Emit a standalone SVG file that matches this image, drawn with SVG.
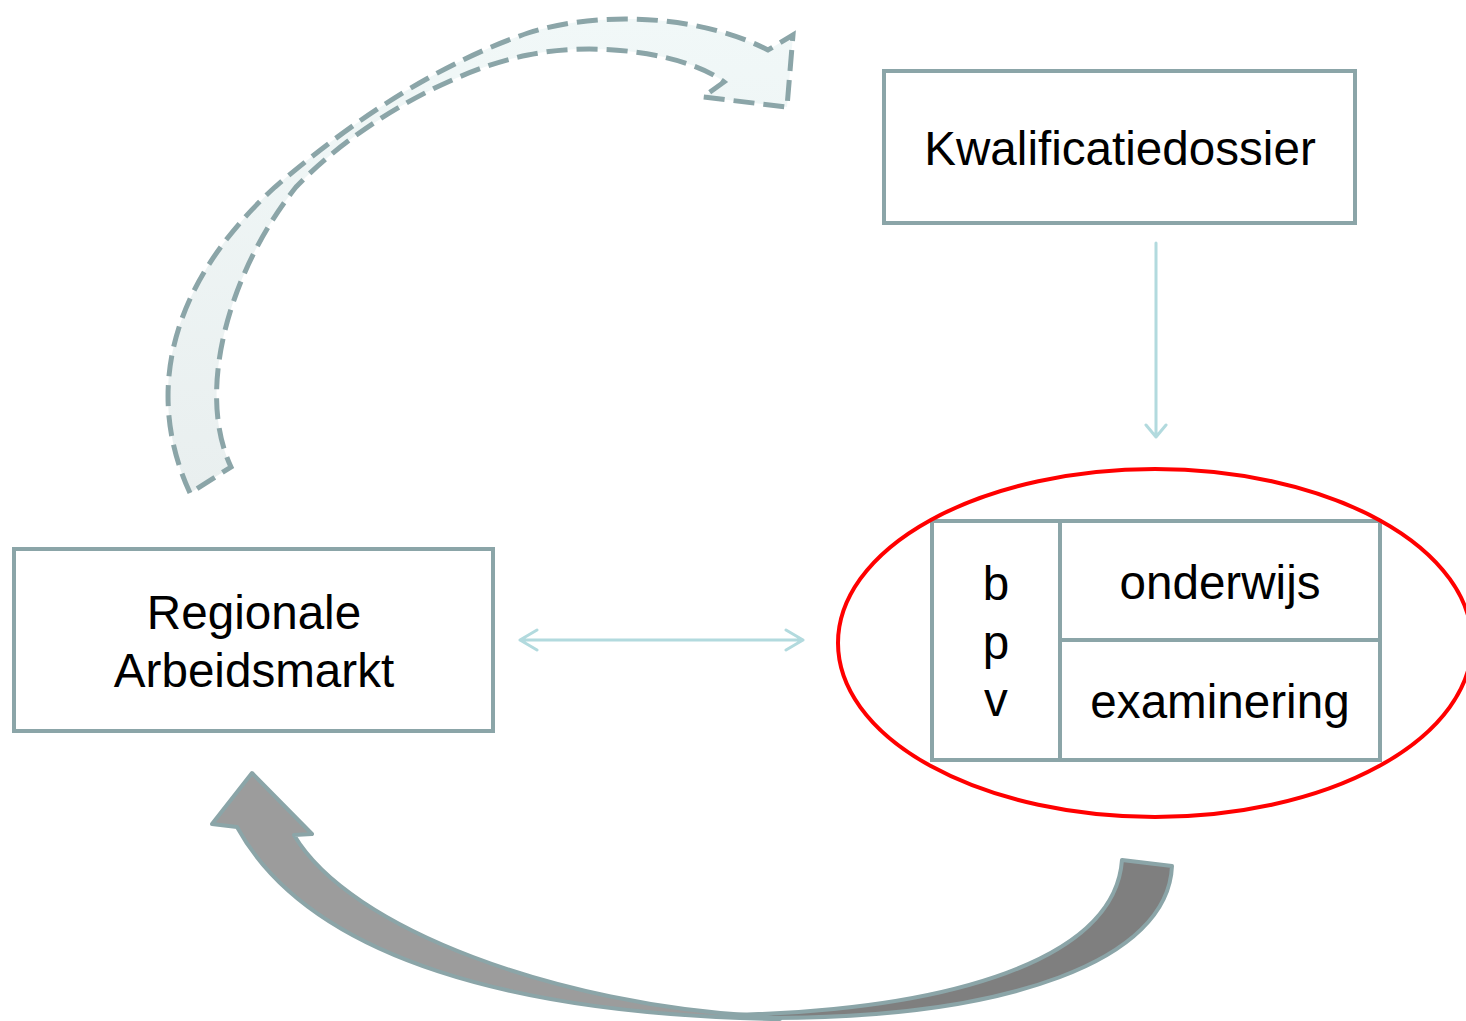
<svg xmlns="http://www.w3.org/2000/svg" width="1466" height="1021" viewBox="0 0 1466 1021">
<style>
.box{fill:#ffffff;stroke:#8BA5A8;stroke-width:4}
.t{font-family:"Liberation Sans",Arial,sans-serif;font-size:47.6px;fill:#000;text-anchor:middle}
.conn{fill:none;stroke:#B2DADE;stroke-width:3;stroke-linecap:round;stroke-linejoin:round}
</style>
<defs>
<linearGradient id="dg" x1="0" y1="493" x2="0" y2="17" gradientUnits="userSpaceOnUse">
<stop offset="0" stop-color="#E9EFEF"/>
<stop offset="1" stop-color="#F1F8F8"/>
</linearGradient>
</defs>
<g id="connectors">
<path id="dashed-curve" d="M190,493 C147,400 163,290 275,187 C330,140 420,70 528,33 C600,10 700,15 768,50 L793,35 L787,107 L703,97 L724,82 C690,55 600,40 528,55 C460,68 360,120 296,187 C230,270 195,390 231,467 Z" fill="url(#dg)" stroke="#8BA5A8" stroke-width="5" stroke-dasharray="21 9" stroke-linejoin="miter"/>
<path id="bottom-tail" d="M1122,860 L1172,866 C1168,960 1010,1018 770,1018 L730,1015 C950,1010 1115,960 1122,860 Z" fill="#7F7F7F" stroke="#8BA5A8" stroke-width="4" stroke-linejoin="round"/>
<path id="bottom-head" d="M780,1019 C520,1015 310,960 237,827 L212,824 L252,773 L312,834 L294,835 C350,930 560,1005 760,1016 Z" fill="#9C9C9C" stroke="#8BA5A8" stroke-width="4" stroke-linejoin="round"/>
<path class="conn" d="M1156,243 L1156,437 M1146,425 L1156,437 L1166,425"/>
<path class="conn" d="M520,640 L803,640 M537,630 L520,640 L537,650 M786,630 L803,640 L786,650"/>
</g>
<g id="node-kwalificatiedossier">
<rect class="box" x="884" y="71" width="471" height="152"/>
<text class="t" x="1120" y="165">Kwalificatiedossier</text>
</g>
<g id="node-regionale-arbeidsmarkt">
<rect class="box" x="14" y="549" width="479" height="182"/>
<text class="t" x="254" y="629">Regionale</text>
<text class="t" x="254" y="687">Arbeidsmarkt</text>
</g>
<g id="node-opleiding">
<rect class="box" x="932" y="521" width="448" height="239"/>
<line x1="1060" y1="521" x2="1060" y2="760" stroke="#8BA5A8" stroke-width="4"/>
<line x1="1060" y1="640" x2="1380" y2="640" stroke="#8BA5A8" stroke-width="4"/>
<text class="t" x="996" y="600">b</text>
<text class="t" x="996" y="659">p</text>
<text class="t" x="996" y="716">v</text>
<text class="t" x="1220" y="599">onderwijs</text>
<text class="t" x="1220" y="718">examinering</text>
</g>
<g id="highlight">
<ellipse cx="1155" cy="643" rx="317" ry="174" fill="none" stroke="#FF0000" stroke-width="4"/>
</g>
</svg>
